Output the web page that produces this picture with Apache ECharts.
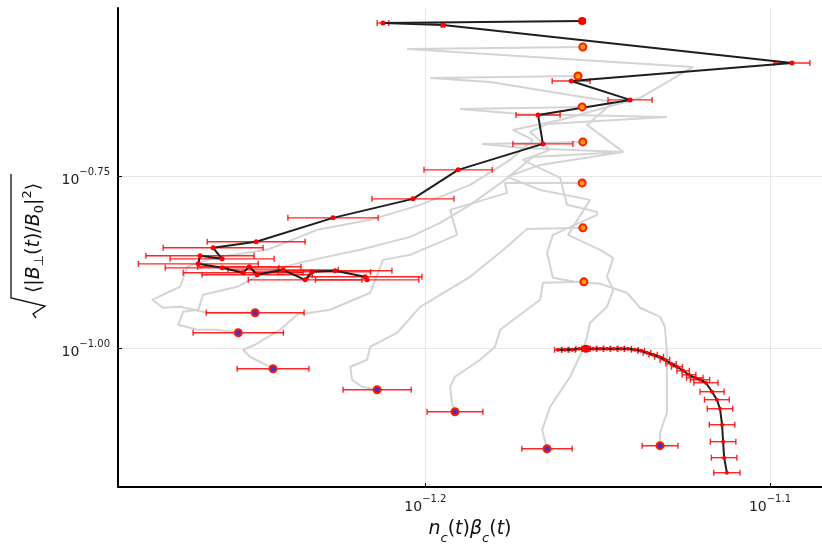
<!DOCTYPE html>
<html><head><meta charset="utf-8">
<script src="https://cdn.jsdelivr.net/npm/echarts@6/dist/echarts.min.js"></script>
<style>html,body{margin:0;padding:0;background:#fff}#c{width:822px;height:551px}</style>
</head><body><div id="c"></div>
<script>
// axis ranges (log10 exponents)
const xRange = [-1.2892, -1.0849];
const yRange = [-1.2015, -0.5058];
const xTickValues = [-1.2, -1.1];
const xTickExps = ['−1.2', '−1.1'];
const yTickValues = [-1.0, -0.75];
const yTickExps = ['−1.00', '−0.75'];

// highlighted trajectory 1 (log10 nβ, log10 B)
const black1X = [-1.1545,-1.2123,-1.1949,-1.0936,-1.1577,-1.1406,-1.1673,-1.1659,-1.1905,-1.2036,-1.2268,-1.2491,-1.2616,-1.2590,-1.2654,-1.2659,-1.2590,-1.2529,-1.2511,-1.2488,-1.2413,-1.2349,-1.2329,-1.2262,-1.2175,-1.2169];
const black1Y = [-0.5247,-0.5276,-0.5305,-0.5856,-0.6118,-0.6393,-0.6611,-0.7032,-0.7409,-0.7830,-0.8106,-0.8454,-0.8541,-0.8701,-0.8657,-0.8774,-0.8832,-0.8904,-0.8817,-0.8933,-0.8861,-0.9006,-0.8890,-0.8875,-0.8962,-0.9006];
const black1Err = [0.0008,0.0017,0.0005,0.0052,0.0055,0.0064,0.0064,0.0087,0.0099,0.0119,0.0131,0.0142,0.0145,0.0151,0.0157,0.0174,0.0165,0.0174,0.0150,0.0160,0.0160,0.0165,0.0170,0.0165,0.0165,0.0150];

// highlighted trajectory 2
const black2X = [-1.1534,-1.1615,-1.1595,-1.1574,-1.1554,-1.1513,-1.1493,-1.1473,-1.1453,-1.1432,-1.1412,-1.1392,-1.1374,-1.1357,-1.1339,-1.1322,-1.1305,-1.1287,-1.1270,-1.1252,-1.1235,-1.1218,-1.1203,-1.1186,-1.1168,-1.1154,-1.1145,-1.1139,-1.1136,-1.1133,-1.1125];
const black2Y = [-1.0007,-1.0022,-1.0022,-1.0022,-1.0007,-1.0007,-1.0007,-1.0007,-1.0007,-1.0007,-1.0007,-1.0022,-1.0036,-1.0065,-1.0094,-1.0123,-1.0167,-1.0225,-1.0269,-1.0327,-1.0385,-1.0428,-1.0457,-1.0501,-1.0631,-1.0747,-1.0878,-1.1110,-1.1357,-1.1589,-1.1807];
const black2Err = [0.0012,0.0010,0.0009,0.0009,0.0009,0.0009,0.0009,0.0009,0.0009,0.0009,0.0010,0.0010,0.0010,0.0011,0.0012,0.0013,0.0014,0.0015,0.0016,0.0018,0.0020,0.0024,0.0028,0.0035,0.0035,0.0036,0.0037,0.0037,0.0037,0.0037,0.0038];

// grey trajectories
const grayX1 = [-1.1543,-1.2053,-1.1223,-1.1377,-1.1609,-1.1746,-1.1688,-1.1754,-1.1870,-1.2015,-1.2160,-1.2314,-1.2459,-1.2616,-1.2691,-1.2712,-1.2793,-1.2761,-1.2712,-1.2633,-1.2494];
const grayY1 = [-0.5624,-0.5653,-0.5914,-0.6364,-0.6684,-0.6829,-0.6974,-0.7264,-0.7627,-0.7917,-0.8135,-0.8280,-0.8570,-0.8687,-0.8817,-0.9107,-0.9296,-0.9412,-0.9398,-0.9485,-0.9485];
const grayX2 = [-1.1557,-1.1986,-1.1812,-1.1455,-1.1531,-1.1426,-1.1688,-1.1769,-1.1870,-1.1957,-1.2044,-1.2189,-1.2355,-1.2471,-1.2546,-1.2645,-1.2659,-1.2703,-1.2717,-1.2662,-1.2604,-1.2543];
const grayY2 = [-0.6045,-0.6074,-0.6132,-0.6422,-0.6756,-0.7148,-0.7221,-0.7554,-0.7917,-0.8179,-0.8382,-0.8570,-0.8745,-0.8904,-0.9107,-0.9224,-0.9441,-0.9470,-0.9659,-0.9732,-0.9732,-0.9775];
const grayX3 = [-1.1545,-1.1899,-1.1725,-1.1299,-1.1647,-1.1696,-1.1638,-1.1717,-1.1609,-1.1589,-1.1502,-1.1502,-1.1630,-1.1647,-1.1630,-1.1566,-1.1493,-1.1415,-1.1377,-1.1319,-1.1305,-1.1299,-1.1299,-1.1319,-1.1319];
const grayY3 = [-0.6495,-0.6524,-0.6596,-0.6640,-0.6742,-0.6858,-0.7119,-0.7264,-0.7525,-0.7917,-0.8019,-0.8062,-0.8353,-0.8614,-0.8977,-0.9035,-0.9064,-0.9194,-0.9412,-0.9543,-0.9688,-1.0065,-1.0936,-1.1226,-1.1415];
const grayX4 = [-1.1543,-1.1836,-1.1717,-1.1426,-1.1667,-1.1763,-1.1667,-1.1522,-1.1551,-1.1586,-1.1493,-1.1455,-1.1473,-1.1455,-1.1473,-1.1522,-1.1531,-1.1543,-1.1580,-1.1638,-1.1661,-1.1647];
const grayY4 = [-0.7003,-0.7032,-0.7090,-0.7148,-0.7337,-0.7511,-0.7700,-0.7845,-0.8077,-0.8353,-0.8570,-0.8687,-0.8962,-0.9151,-0.9398,-0.9630,-0.9833,-1.0022,-1.0414,-1.0849,-1.1183,-1.1459];
const grayX5 = [-1.1545,-1.1769,-1.1763,-1.1928,-1.1908,-1.2044,-1.2123,-1.2160,-1.2276,-1.2372,-1.2422,-1.2471,-1.2494,-1.2529,-1.2509,-1.2451,-1.2442];
const grayY5 = [-0.7598,-0.7598,-0.7743,-0.7990,-0.8353,-0.8643,-0.8716,-0.9194,-0.9441,-0.9514,-0.9732,-0.9877,-0.9949,-1.0022,-1.0123,-1.0269,-1.0298];
const grayX6 = [-1.1543,-1.1705,-1.1763,-1.1870,-1.2015,-1.2082,-1.2160,-1.2169,-1.2218,-1.2213,-1.2184,-1.2140];
const grayY6 = [-0.8251,-0.8266,-0.8527,-0.8962,-0.9398,-0.9775,-0.9978,-1.0167,-1.0269,-1.0457,-1.0559,-1.0602];
const grayX7 = [-1.1540,-1.1659,-1.1667,-1.1783,-1.1798,-1.1841,-1.1914,-1.1928,-1.1923,-1.1914];
const grayY7 = [-0.9035,-0.9049,-0.9296,-0.9732,-0.9978,-1.0167,-1.0414,-1.0559,-1.0791,-1.0922];
const grayEndErr = [0.0142,0.0131,0.0052,0.0073,0.0104,0.0099,0.0081];

const grayXs = [grayX1,grayX2,grayX3,grayX4,grayX5,grayX6,grayX7];
const grayYs = [grayY1,grayY2,grayY3,grayY4,grayY5,grayY6,grayY7];

const zip = (xs, ys) => xs.map((x, i) => [x, ys[i]]);
const zip3 = (xs, ys, es) => xs.map((x, i) => [x, ys[i], es[i]]);

function errRender(params, api) {
  const x = api.value(0), y = api.value(1), e = api.value(2);
  const a = api.coord([x - e, y]), b = api.coord([x + e, y]);
  const st = {stroke: 'rgba(255,0,0,0.85)', lineWidth: 1.4};
  return {type: 'group', children: [
    {type: 'line', shape: {x1: a[0], y1: a[1], x2: b[0], y2: b[1]}, style: st},
    {type: 'line', shape: {x1: a[0], y1: a[1] - 3, x2: a[0], y2: a[1] + 3}, style: st},
    {type: 'line', shape: {x1: b[0], y1: b[1] - 3, x2: b[0], y2: b[1] + 3}, style: st}
  ]};
}

const series = [];
grayXs.forEach((xs, k) => {
  series.push({type: 'line', data: zip(xs, grayYs[k]), showSymbol: false, symbol: 'none', z: 1,
    lineStyle: {color: '#d4d4d4', width: 2}, silent: true});
});
const endErrData = grayXs.map((xs, k) => [xs[xs.length - 1], grayYs[k][grayYs[k].length - 1], grayEndErr[k]]);
series.push({type: 'custom', renderItem: errRender, data: zip3(black1X, black1Y, black1Err), encode: {x: 0, y: 1}, z: 3});
series.push({type: 'custom', renderItem: errRender, data: zip3(black2X, black2Y, black2Err), encode: {x: 0, y: 1}, z: 3});
series.push({type: 'custom', renderItem: errRender, data: endErrData, encode: {x: 0, y: 1}, z: 3});
series.push({type: 'line', data: zip(black1X, black1Y), symbol: 'circle', symbolSize: 5, showSymbol: true, z: 4,
  lineStyle: {color: '#1e1e1e', width: 2}, itemStyle: {color: '#ff0000', borderWidth: 0}});
series.push({type: 'line', data: zip(black2X, black2Y), symbol: 'circle', symbolSize: 4, showSymbol: true, z: 4,
  lineStyle: {color: '#1e1e1e', width: 2}, itemStyle: {color: '#ff0000', borderWidth: 0}});
// start markers
series.push({type: 'scatter', z: 5, symbolSize: 7,
  data: grayXs.map((xs, k) => [xs[0], grayYs[k][0]]),
  itemStyle: {color: '#ffa000', borderColor: '#ff1a00', borderWidth: 2, opacity: 1}});
series.push({type: 'scatter', z: 5, symbolSize: 8,
  data: [[black1X[0], black1Y[0]], [black2X[0], black2Y[0]]],
  itemStyle: {color: '#ff0000', borderWidth: 0, opacity: 1}});
// end markers
series.push({type: 'scatter', z: 5, symbolSize: 7,
  data: endErrData.map(d => [d[0], d[1]]),
  itemStyle: {color: '#4a30c0', borderColor: '#ff1a00', borderWidth: 2, opacity: 1}});

const F = 'DejaVu Sans';
const tickRich = {
  b: {fontSize: 14, fontFamily: F, color: '#222', padding: [8, 0, 0, 0]},
  s: {fontSize: 10, fontFamily: F, color: '#222', padding: [2, 0, 0, 0], verticalAlign: 'top'}
};
const chart = echarts.init(document.getElementById('c'));
chart.setOption({
  animation: false,
  backgroundColor: '#fff',
  grid: {left: 118, right: 0, top: 8, bottom: 64, containLabel: false},
  xAxis: {
    type: 'value', min: xRange[0], max: xRange[1],
    axisLine: {show: true, onZero: false, lineStyle: {color: '#000', width: 2}},
    axisTick: {show: true, inside: true, length: 4, customValues: xTickValues, lineStyle: {color: '#000'}},
    splitLine: {show: true, lineStyle: {color: '#e6e6e6', width: 1}},
    axisLabel: {customValues: xTickValues, margin: 5,
      formatter: v => { const i = xTickValues.findIndex(t => Math.abs(t - v) < 1e-9); return '{b|10}{s|' + xTickExps[i] + '}'; },
      rich: tickRich},
    name: '{i|n}{sb|c}{n|(}{i|t}{n|)}{i|β}{sb|c}{n|(}{i|t}{n|)}',
    nameLocation: 'middle', nameGap: 33,
    nameTextStyle: {rich: {
      i: {fontSize: 19, fontStyle: 'italic', fontFamily: F, color: '#111', padding: [0, 0, 6, 0]},
      n: {fontSize: 19, fontFamily: F, color: '#111', padding: [0, 0, 6, 0]},
      sb: {fontSize: 13, fontStyle: 'italic', fontFamily: F, color: '#111', verticalAlign: 'bottom'}
    }}
  },
  yAxis: {
    type: 'value', min: yRange[0], max: yRange[1],
    axisLine: {show: true, onZero: false, lineStyle: {color: '#000', width: 2}},
    axisTick: {show: true, inside: true, length: 4, customValues: yTickValues, lineStyle: {color: '#000'}},
    splitLine: {show: true, lineStyle: {color: '#e6e6e6', width: 1}},
    axisLabel: {customValues: yTickValues, margin: 8,
      formatter: v => { const i = yTickValues.findIndex(t => Math.abs(t - v) < 1e-9); return '{b|10}{s|' + yTickExps[i] + '}'; },
      rich: tickRich}
  },
  graphic: [{
    type: 'group', x: 34, y: 238, rotation: Math.PI / 2,
    children: [
      {type: 'text', style: {
        x: 0, y: 0, align: 'center', verticalAlign: 'middle',
        text: '{n|⟨|}{i|B}{sb|⊥}{n|(}{i|t}{n|)/}{i|B}{sb|0}{n||}{sp|2}{n|⟩}',
        rich: {
          n: {fontSize: 19, fontFamily: F, fill: '#111', padding: [3, 0, 3, 0]},
          i: {fontSize: 19, fontFamily: F, fontStyle: 'italic', fill: '#111', padding: [3, 0, 3, 0]},
          sb: {fontSize: 13, fontFamily: F, fill: '#111', verticalAlign: 'bottom'},
          sp: {fontSize: 13, fontFamily: F, fill: '#111', verticalAlign: 'top'}
        }}},
      {type: 'polyline', shape: {points: [[-80, 2], [-76, -1], [-68, 11], [-60, -23], [64, -23]]},
        style: {stroke: '#111', lineWidth: 1.3, fill: null}}
    ]
  }],
  series: series
});
</script></body></html>
